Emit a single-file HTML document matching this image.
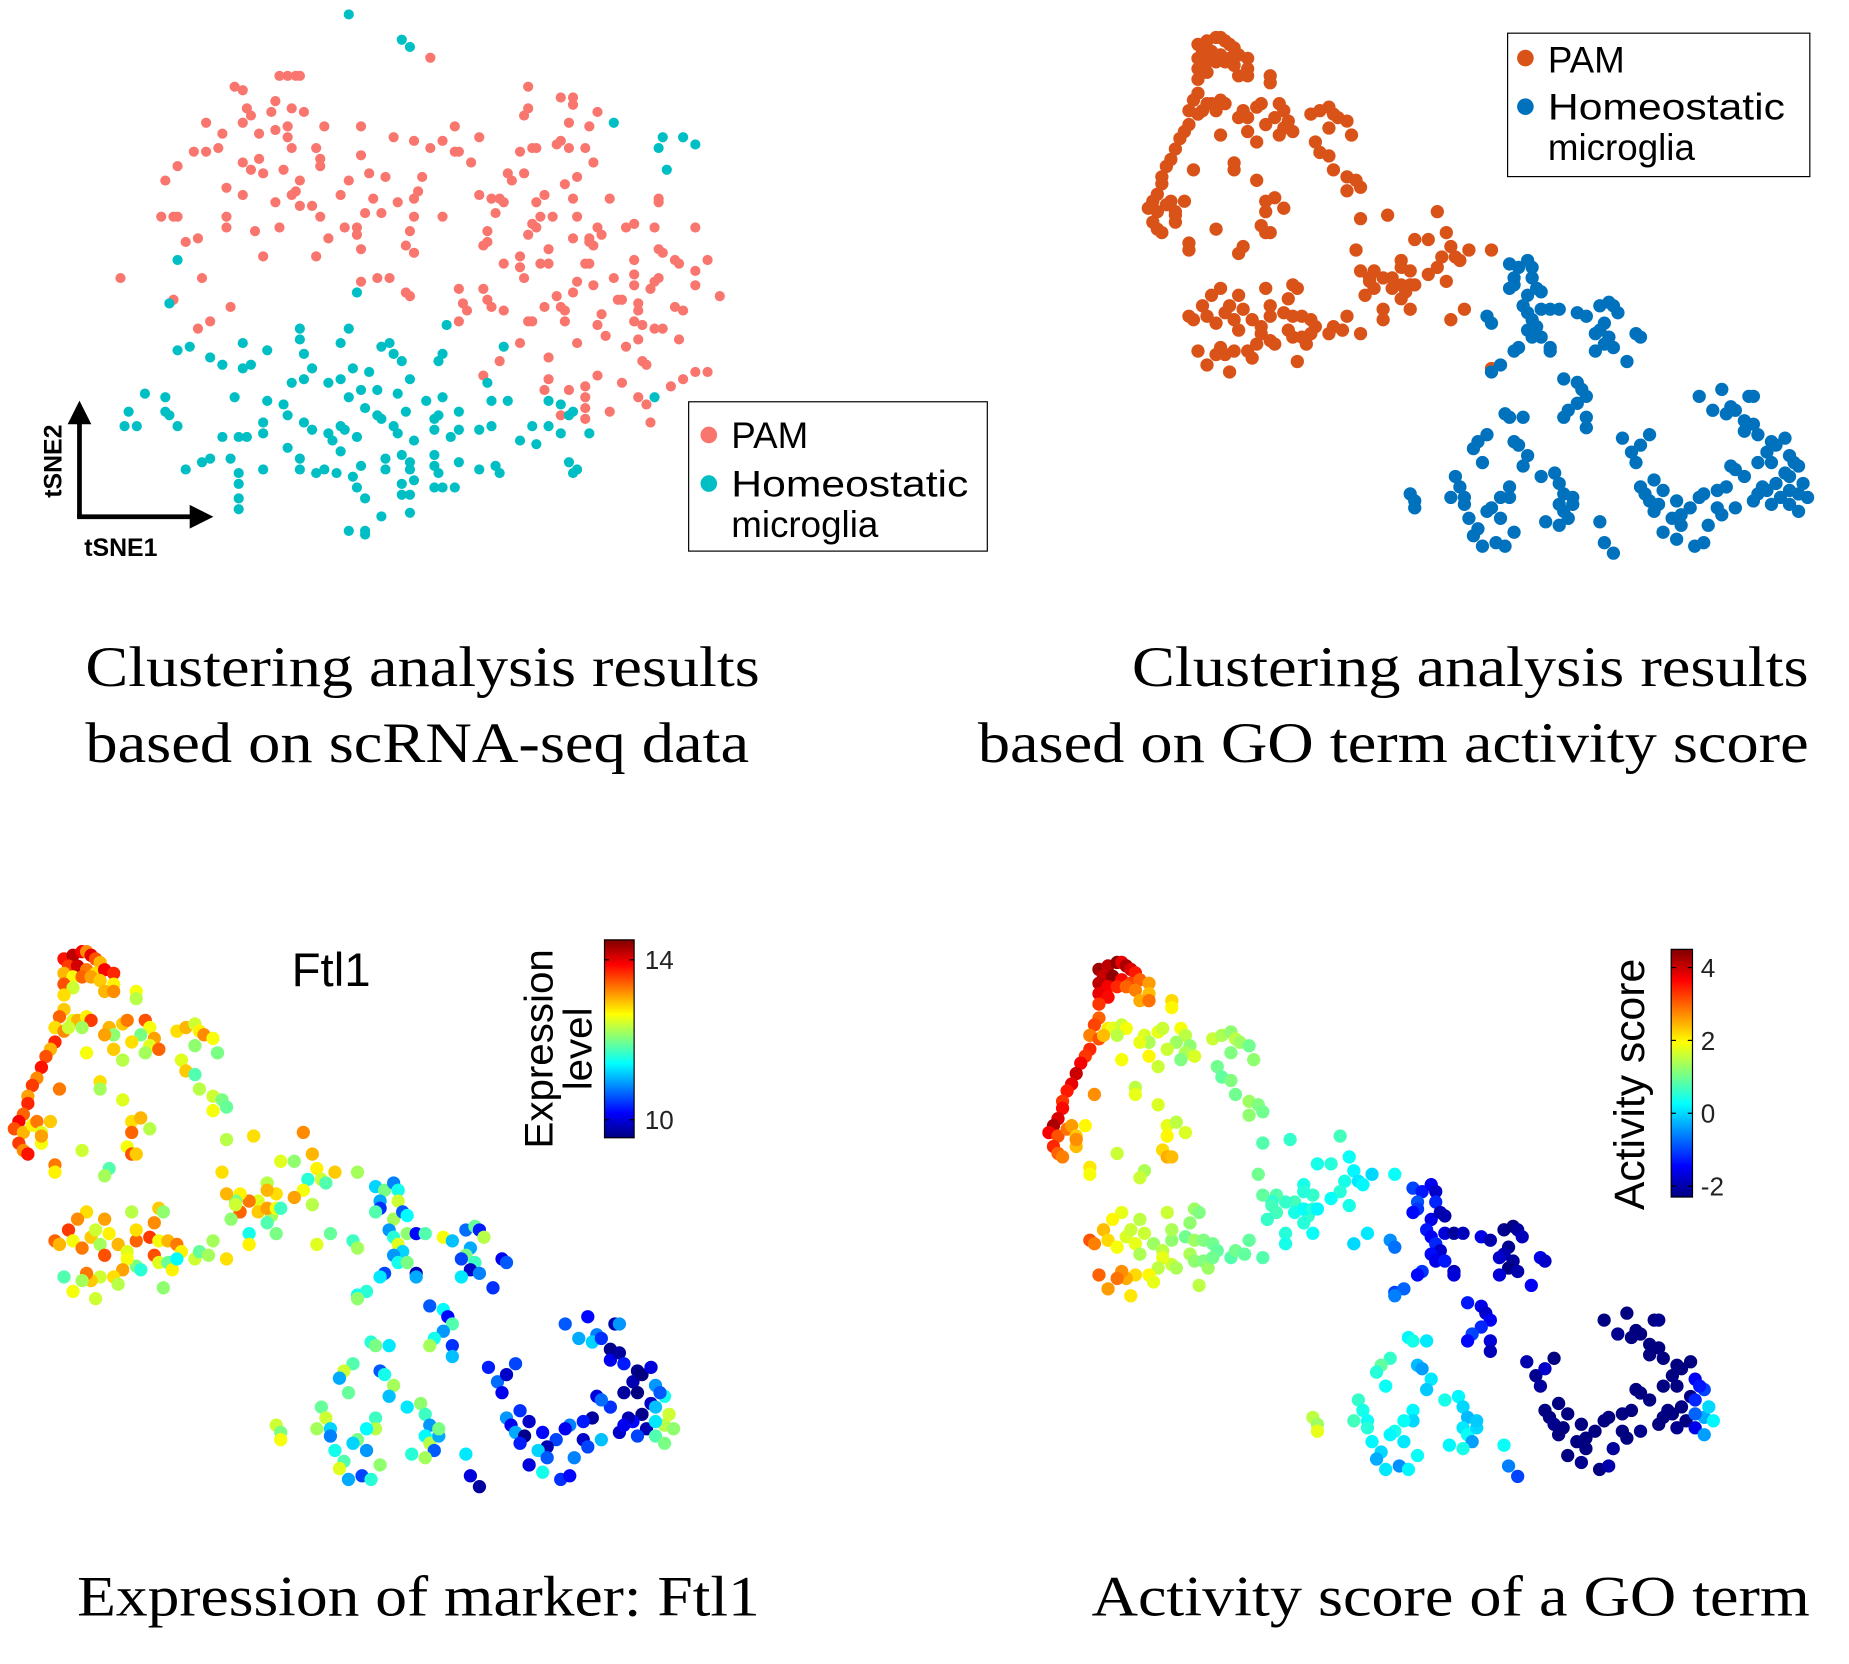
<!DOCTYPE html>
<html><head><meta charset="utf-8"><style>
html,body{margin:0;padding:0;background:#fff;}
svg{display:block;}
</style></head><body>
<svg id="fig" xmlns="http://www.w3.org/2000/svg" width="1849" height="1664" viewBox="0 0 1560 1404">
<rect width="1560" height="1404" fill="#fff"/>
<g id="p1"></g>
<g id="p2"></g>
<g id="p3"></g>
<g id="p4"></g>

<!-- panel 1 axes arrows -->
<g stroke="#000" stroke-width="4" fill="none">
<line x1="67" y1="436" x2="67" y2="352"/>
<line x1="65" y1="436" x2="164" y2="436"/>
</g>
<polygon points="57,358 77,358 67,338" fill="#000"/>
<polygon points="160,426 160,446 180,436" fill="#000"/>
<text transform="translate(52,420) rotate(-90)" font-family="Liberation Sans, sans-serif" font-weight="bold" font-size="21">tSNE2</text>
<text x="71" y="469" font-family="Liberation Sans, sans-serif" font-weight="bold" font-size="21">tSNE1</text>

<!-- legend panel1 -->
<g>
<rect x="581" y="339" width="252" height="126" fill="#fff" stroke="#000" stroke-width="1"/>
<circle cx="598" cy="367" r="7" fill="#f8766d"/>
<text x="617" y="378" font-family="Liberation Sans, sans-serif" font-size="31">PAM</text>
<circle cx="598" cy="408" r="7" fill="#00bfc4"/>
<text x="617" y="419" font-family="Liberation Sans, sans-serif" font-size="31" textLength="200" lengthAdjust="spacingAndGlyphs">Homeostatic</text>
<text x="617" y="453" font-family="Liberation Sans, sans-serif" font-size="31">microglia</text>
</g>
<!-- legend panel2 -->
<g>
<rect x="1272" y="28" width="255" height="121" fill="#fff" stroke="#000" stroke-width="1"/>
<circle cx="1287" cy="49" r="7" fill="#d95319"/>
<text x="1306" y="61" font-family="Liberation Sans, sans-serif" font-size="31">PAM</text>
<circle cx="1287" cy="90" r="7" fill="#0072bd"/>
<text x="1306" y="101" font-family="Liberation Sans, sans-serif" font-size="31" textLength="200" lengthAdjust="spacingAndGlyphs">Homeostatic</text>
<text x="1306" y="135" font-family="Liberation Sans, sans-serif" font-size="31">microglia</text>
</g>

<!-- captions -->
<g font-family="Liberation Serif, serif" font-size="48" fill="#000">
<text x="72" y="579" textLength="569" lengthAdjust="spacingAndGlyphs">Clustering analysis results</text>
<text x="72" y="643" textLength="560" lengthAdjust="spacingAndGlyphs">based on scRNA-seq data</text>
<text x="955" y="579" textLength="571" lengthAdjust="spacingAndGlyphs">Clustering analysis results</text>
<text x="825" y="643" textLength="701" lengthAdjust="spacingAndGlyphs">based on GO term activity score</text>
<text x="65" y="1363" textLength="576" lengthAdjust="spacingAndGlyphs">Expression of marker: Ftl1</text>
<text x="921" y="1363" textLength="606" lengthAdjust="spacingAndGlyphs">Activity score of a GO term</text>
</g>

<text x="246" y="832" font-family="Liberation Sans, sans-serif" font-size="40">Ftl1</text>

<defs>
<linearGradient id="jet" x1="0" y1="1" x2="0" y2="0">
<stop offset="0" stop-color="#00007f"/><stop offset="0.125" stop-color="#0000ff"/>
<stop offset="0.375" stop-color="#00ffff"/><stop offset="0.625" stop-color="#ffff00"/>
<stop offset="0.875" stop-color="#ff0000"/><stop offset="1" stop-color="#7f0000"/>
</linearGradient>
</defs>
<g id="cb3"></g>
<g id="cb4"></g>
<text transform="translate(466,885) rotate(-90)" text-anchor="middle" font-family="Liberation Sans, sans-serif" font-size="34">Expression</text>
<text transform="translate(499,885) rotate(-90)" text-anchor="middle" font-family="Liberation Sans, sans-serif" font-size="34">level</text>
<text transform="translate(1387,915) rotate(-90)" text-anchor="middle" font-family="Liberation Sans, sans-serif" font-size="36">Activity score</text>
</svg>

<script>
// ---- Panel 1 data (tSNE on scRNA-seq) ----
const pamScrna = [[81,16],[44,21],[46,21],[48,21],[49,21],[33,24],[35,25],[43,28],[42,31],[36,30],[37,32],[35,34],[47,30],[50,31],[26,34],[30,37],[39,37],[43,36],[46,35],[46,38],[47,41],[55,35],[64,35],[23,42],[26,42],[29,41],[19,46],[35,45],[39,44],[37,47],[40,48],[45,47],[53,41],[54,44],[54,46],[64,43],[16,50],[31,52],[35,54],[49,50],[48,53],[47,54],[43,56],[49,57],[52,57],[59,54],[61,50],[66,48],[70,49],[67,55],[69,59],[65,59],[79,49],[78,53],[77,55],[73,56],[15,60],[18,60],[19,60],[31,60],[31,63],[38,64],[44,63],[54,60],[56,66],[60,63],[63,63],[63,65],[64,69],[77,60],[76,64],[75,68],[77,70],[84,60],[21,67],[24,66],[40,71],[53,71],[5,77],[25,77],[64,78],[68,77],[71,77],[75,81],[76,82],[18,83],[32,85],[24,91],[27,89],[72,38],[77,39],[81,41],[84,39],[87,35],[88,42],[91,45],[93,38],[87,42],
[105,24],[105,30],[104,32],[113,27],[116,27],[116,29],[122,31],[120,35],[115,34],[112,40],[113,39],[115,41],[119,41],[103,42],[106,41],[107,41],[121,45],[104,48],[100,48],[101,50],[117,49],[114,51],[93,54],[96,55],[98,55],[99,56],[97,59],[107,56],[109,54],[116,55],[125,55],[108,60],[111,60],[117,60],[95,64],[95,67],[94,68],[105,65],[107,63],[106,62],[122,63],[123,65],[116,66],[120,66],[120,67],[121,68],[129,63],[131,62],[136,63],[146,63],[110,69],[103,71],[99,73],[103,74],[108,73],[110,73],[119,73],[120,73],[137,56],[137,55],[137,69],[138,70],[141,72],[142,73],[149,72],[131,72],[131,76],[131,79],[126,77],[136,78],[135,80],[137,77],[146,75],[146,79],[152,82],[104,77],[117,78],[121,79],[88,80],[94,80],[95,83],[96,85],[89,84],[90,86],[99,86],[88,89],[109,85],[112,82],[113,85],[114,86],[116,81],[105,89],[106,89],[114,89],[123,87],[127,83],[128,83],[132,84],[132,86],[131,89],[133,90],[136,91],[138,91],[141,85],[143,86],[122,90],[124,93],[129,96],[132,94],[142,94],[117,95],[103,95],[98,100],[110,99],[133,100],[134,101],[110,105],[122,104],[94,104],[109,108],[115,108],[119,107],[119,110],[128,106],[132,110],[134,112],[140,107],[143,105],[146,103],[149,103],[125,114],[113,115],[119,113],[119,116],[135,117]];
const homScrna = [[61,4],[74,11],[76,13],[126,34],[138,38],[143,38],[146,40],[137,41],[139,47],[19,72],[17,84],[63,81],[85,90],[49,91],[49,94],[61,91],[59,95],[35,95],[19,97],[22,96],[27,99],[30,101],[41,97],[50,98],[52,102],[35,102],[37,101],[69,96],[71,95],[72,98],[74,100],[84,98],[83,100],[99,96],[95,106],[47,106],[50,105],[56,106],[59,105],[62,102],[66,103],[76,105],[11,109],[16,110],[16,114],[17,115],[19,118],[7,114],[6,118],[9,118],[33,110],[41,111],[45,112],[46,115],[50,117],[52,119],[61,110],[64,108],[68,108],[73,109],[80,111],[84,110],[96,111],[100,111],[110,111],[113,112],[116,114],[65,113],[68,115],[69,116],[75,114],[83,115],[88,114],[40,117],[40,120],[30,121],[34,121],[36,121],[46,124],[56,120],[59,118],[60,119],[63,121],[57,122],[59,125],[72,118],[73,120],[77,122],[82,116],[82,119],[86,121],[88,119],[93,119],[96,118],[103,122],[110,118],[120,120],[21,130],[25,128],[27,127],[32,127],[34,131],[34,134],[34,138],[34,141],[40,130],[49,127],[49,130],[53,131],[55,130],[58,131],[62,132],[63,135],[64,129],[70,127],[70,130],[74,126],[76,128],[76,130],[74,134],[77,133],[82,126],[82,129],[83,131],[82,135],[84,135],[87,135],[88,128],[93,130],[97,129],[98,131],[115,128],[117,130],[116,131],[74,137],[76,137],[65,138],[69,143],[76,142],[61,147],[65,147],[65,148],[106,118],[107,123],[113,120],[115,115],[136,110]];

// ---- Panels 2-4 data (tSNE on GO activity): [x, y, Ftl1 expression, activity score] ----
const pamCells = [[15,7,13.8,4.3],[17,6,14.2,4.1],[19,5,13.9,4.4],[20,5,13.2,3.8],[21,6,14.0,4.2],[22,7,13.5,3.9],[23,8,13.0,3.5],[16,9,13.6,4.0],[18,9,14.1,4.4],[20,10,13.3,3.6],[22,11,12.8,3.2],[24,10,13.9,3.0],[15,11,13.0,4.1],[17,12,12.6,3.7],[19,12,13.4,3.4],[21,12,13.1,3.0],[23,13,12.9,2.8],[26,11,13.7,2.6],[26,14,12.7,2.4],[15,14,13.5,3.8],[17,15,12.4,3.6],[24,16,13.0,2.5],[15,17,12.8,3.3],[26,16,13.2,2.9],[31,16,12.6,2.2],[31,18,12.3,2.0],
[15,21,12.9,3.0],[14,23,13.4,3.2],[17,24,12.5,2.1],[18,24,13.0,1.8],[20,23,12.7,1.6],[21,24,13.6,1.9],[19,26,12.2,1.5],[13,26,12.8,2.8],[15,27,13.2,3.1],[16,26,12.4,2.4],[25,26,13.0,1.7],[26,28,12.1,1.4],[28,25,12.9,1.8],[29,24,13.3,1.6],[33,24,13.5,1.9],[34,26,12.6,1.5],[32,28,12.0,1.3],[30,30,12.8,1.6],[35,29,13.1,1.2],[34,31,12.5,1.4],[36,32,13.4,1.7],[33,33,12.2,1.1],[13,30,13.7,3.4],[12,32,13.0,3.3],[11,34,13.5,3.7],[10,37,13.8,4.0],[9,40,13.2,3.8],[8,42,13.6,3.5],[20,33,12.6,1.9],[26,32,12.9,2.0],[28,35,12.3,1.6],[24,28,13.1,1.8],[40,27,12.8,1.6],[42,26,13.0,1.4],[44,25,12.4,1.2],[45,27,12.7,1.5],[46,28,13.2,1.3],[44,31,12.1,1.1],[48,29,12.6,1.0],[49,33,12.0,1.2],[41,35,12.5,1.0],[42,38,12.9,0.9],[44,39,11.8,1.1],[45,43,12.3,1.0],[23,41,12.8,1.5],[23,43,12.2,1.8],[14,43,13.3,2.7],[28,46,12.5,1.7],
[7,45,13.1,3.3],[7,47,13.7,3.6],[6,50,13.4,3.9],[5,52,13.9,4.2],[4,54,13.5,3.7],[6,55,13.0,3.1],[8,53,12.7,2.9],[9,52,13.3,2.6],[10,55,12.5,2.3],[12,52,12.9,2.0],[5,58,13.6,3.4],[6,60,13.2,3.0],[7,61,13.8,2.8],[10,58,12.6,2.4],[10,56,13.1,2.7],[19,60,12.4,1.6],[30,52,12.8,1.8],[32,51,13.0,1.5],[34,54,12.3,1.7],[30,55,13.4,2.0],[29,59,12.6,2.2],[30,61,13.5,2.5],[31,61,12.9,2.4],[13,64,13.3,2.1],[13,66,12.7,1.9],[25,65,11.8,1.4],[24,67,12.2,1.6],
[48,45,12.4,1.3],[50,46,12.0,1.1],[48,49,12.6,1.2],[51,48,11.9,1.0],[51,57,12.3,0.8],[57,56,12.8,0.6],[68,55,13.2,0.7],[63,63,12.5,0.4],[66,63,12.1,0.5],[70,61,13.0,0.3],[71,65,12.7,0.2],[69,68,11.6,0.4],[72,68,12.4,0.1],[75,66,12.9,0.0],[80,66,12.2,0.3],[73,69,11.8,0.2],[68,71,12.6,0.5],[66,73,13.1,0.3],[62,72,12.8,0.6],[60,69,12.3,0.4],[60,71,13.0,0.5],[58,74,12.5,0.7],[56,74,13.3,0.6],[54,72,12.7,0.8],[53,74,12.0,0.5],[54,77,13.4,0.7],[58,77,12.9,0.4],[61,78,12.2,0.6],[60,76,13.1,0.3],[62,76,12.6,0.5],[63,76,11.7,0.2],[70,75,12.3,0.4],[50,66,12.8,1.0],[51,72,13.0,0.9],[53,75,12.4,0.7],[52,79,12.1,0.6],[56,83,11.5,0.5],[56,86,12.7,0.4],[62,83,12.0,0.3],[60,80,11.8,0.5],[71,86,12.5,0.0],[74,83,11.9,0.1],[48,85,12.2,0.9],[51,90,12.8,0.8],
[20,77,12.8,1.8],[18,79,13.2,2.0],[16,82,13.6,2.4],[13,85,13.4,3.1],[14,86,13.0,2.8],[17,85,12.6,2.2],[19,87,13.3,1.9],[21,84,12.9,1.7],[22,82,12.4,1.6],[24,79,13.1,1.5],[23,86,12.2,1.8],[24,89,13.5,1.4],[25,83,12.7,1.6],[27,86,13.0,1.3],[29,88,12.5,1.5],[31,85,13.4,1.2],[31,82,12.8,1.4],[30,77,12.3,1.6],[36,76,12.9,1.3],[37,77,12.1,1.1],[35,80,13.2,1.2],[34,84,13.6,1.0],[36,85,12.6,1.3],[38,85,13.0,1.1],[40,86,13.3,1.0],[41,88,12.7,0.9],[44,90,12.4,0.8],[45,88,11.9,1.0],[47,89,12.2,0.9],[35,89,13.5,1.4],[31,92,12.0,1.6],[29,90,12.6,1.8],[28,93,13.1,1.5],[23,95,12.4,2.2],[21,96,12.9,2.5],[20,94,13.3,2.7],[19,96,12.2,2.9],[17,99,12.6,2.6],[15,95,11.8,3.0],[26,95,12.8,2.0],[27,97,12.3,1.8],[32,93,11.6,1.4],[36,91,12.5,1.2],[38,91,11.9,1.1],[39,93,12.7,1.3],[40,90,11.4,1.0],[37,98,12.1,1.5],[22,101,12.4,2.1],[80,100,11.5,-1.0]];
const homCells = [[84,70,11.2,-1.0],[86,71,12.0,-1.3],[88,69,10.8,-1.5],[89,71,11.5,-1.8],[89,74,12.4,-1.2],[85,74,11.0,-0.9],[85,76,10.4,-1.1],[84,77,11.8,-1.4],[88,79,12.2,-1.6],[90,77,10.6,-1.9],[91,78,11.4,-2.0],[91,83,12.1,-1.7],[87,82,10.9,-1.3],[88,84,11.6,-1.5],[89,86,12.5,-1.2],[90,88,11.2,-1.8],[93,83,10.2,-2.1],[95,83,11.8,-1.9],[99,84,12.6,-1.6],[101,85,11.1,-2.0],[104,82,10.7,-2.2],[106,81,11.9,-2.3],[107,82,10.3,-2.1],[108,84,12.3,-1.9],[105,87,11.0,-2.2],[104,89,12.0,-2.0],[103,90,10.5,-1.8],[106,91,11.7,-2.1],[105,93,9.9,-2.3],[103,95,11.3,-1.7],[107,94,10.8,-2.0],[112,90,10.1,-1.6],[113,91,10.6,-1.8],[110,98,10.4,-1.5],[79,85,11.7,-0.5],[80,87,12.2,-0.7],[88,89,10.9,-1.4],[89,91,11.5,-1.6],[91,91,12.0,-1.3],[86,94,10.5,-1.1],[85,95,11.3,-1.4],[93,94,9.8,-1.9],[93,95,11.0,-1.7],[82,99,11.6,-0.8],[80,101,12.1,-0.6],
[96,103,10.6,-1.3],[99,104,11.4,-1.6],[100,106,10.2,-1.8],[101,108,11.8,-1.5],[99,110,10.9,-1.2],[97,112,11.5,-1.0],[96,114,12.2,-1.4],[101,114,10.4,-1.7],[101,117,11.1,-1.9],
[83,113,11.6,0.2],[84,114,12.0,0.4],[87,114,11.3,0.1],[79,119,11.8,0.6],[77,121,12.4,0.9],[76,123,11.0,0.5],[78,127,11.9,0.3],[85,121,10.6,-0.2],[86,122,11.5,-0.4],[88,125,12.2,0.1],[87,128,11.1,-0.1],[84,134,11.7,0.2],[84,137,12.3,0.0],[82,137,11.4,0.3],[80,140,12.0,0.4],[82,143,10.9,0.1],[79,141,11.2,0.2],[77,146,11.8,0.0],[76,148,12.5,-0.3],[78,151,11.0,0.1],[81,150,10.5,-0.5],[83,151,11.6,0.2],[85,147,12.1,0.3],[72,131,11.9,0.6],[73,134,12.4,0.4],[74,137,11.2,0.3],[74,139,10.8,0.5],[75,143,11.5,0.2],[71,137,12.2,0.7],[62,136,12.4,1.5],[63,138,12.0,1.3],[63,140,12.6,1.8],[91,131,11.3,0.4],[94,130,12.1,0.2],[95,133,11.7,0.0],[96,136,10.9,-0.2],[95,139,11.4,0.1],[96,141,12.3,0.3],[97,143,10.6,-0.4],[98,139,11.0,0.0],[98,137,12.0,-0.1],[92,144,11.6,0.2],[95,145,12.2,0.4],[104,144,11.3,0.3],[105,150,10.0,-0.6],[107,153,9.7,-1.0],
[109,120,10.3,-2.0],[111,124,10.7,-2.2],[113,122,9.9,-1.8],[115,119,10.5,-2.3],[112,127,10.1,-2.1],
[126,108,10.6,-2.3],[129,112,11.0,-2.2],[131,106,10.2,-2.4],[133,111,10.8,-2.3],[132,113,11.2,-2.5],[134,112,10.4,-2.4],[137,108,9.8,-2.3],[138,108,10.9,-2.2],[136,115,9.6,-2.5],[136,118,10.1,-2.4],[138,116,9.7,-2.5],[139,119,10.3,-2.3],[142,121,9.6,-2.5],[141,124,9.8,-2.4],[143,122,9.5,-2.5],[145,120,10.0,-2.3],[139,127,9.7,-2.4],[142,127,9.5,-2.5],[145,130,9.9,-2.4],[143,133,9.6,-2.5],[141,135,10.2,-2.3],[144,137,9.8,-2.4],[142,139,10.5,-2.2],[146,139,11.8,-1.6],[146,125,10.9,-1.5],[148,128,11.5,-1.0],[148,136,12.3,-0.3],[146,131,11.1,-1.2],[147,127,10.6,-1.3],[138,138,9.9,-2.4],[136,131,10.4,-2.3],[133,128,10.0,-2.4],[134,129,10.7,-2.5],[132,134,9.7,-2.5],[130,135,10.3,-2.4],[127,136,10.8,-2.3],[126,137,10.1,-2.5],[124,140,10.5,-2.4],[122,142,9.8,-2.5],[121,138,10.2,-2.4],[118,135,9.9,-2.5],[116,132,10.4,-2.4],[113,134,10.9,-2.3],[114,136,10.1,-2.5],[115,138,11.0,-2.2],[117,139,9.6,-2.5],[116,141,10.3,-2.4],[120,143,11.2,-2.3],[122,145,10.6,-2.4],[118,147,10.0,-2.5],[121,149,11.5,-2.2],[125,151,10.4,-2.3],[128,145,10.8,-2.1],[130,140,9.9,-2.4],[131,142,10.5,-2.3],[134,140,11.1,-2.2],[127,150,10.2,-2.0],[146,135,11.3,-0.8],[148,141,12.0,-0.4],[149,133,12.4,0.0],[150,137,12.1,0.2],[140,134,9.8,-2.4],[139,136,10.1,-2.5]];

const exprTicks = [10, 14];
const exprRange = [9.55, 14.5];
const actTicks = [-2, 0, 2, 4];
const actRange = [-2.3, 4.5];

const NS = 'http://www.w3.org/2000/svg';
function mk(tag, attrs, parent){ const e=document.createElementNS(NS,tag); for(const k in attrs) e.setAttribute(k,attrs[k]); parent.appendChild(e); return e; }
function axis(off, scale){ return v => off + v*scale; }
function clamp(v){ return Math.max(0, Math.min(1, v)); }
function jet(t){
  t = clamp(t);
  const r = clamp(1.5-Math.abs(4*t-3)), g = clamp(1.5-Math.abs(4*t-2)), b = clamp(1.5-Math.abs(4*t-1));
  return 'rgb('+Math.round(r*255)+','+Math.round(g*255)+','+Math.round(b*255)+')';
}

// panel 1
const x1 = axis(84.4, 3.44), y1 = axis(0, 3.047);
const g1 = document.getElementById('p1');
pamScrna.forEach(p => {
  const c = mk('circle', {cx:x1(p[0]), cy:y1(p[1]), r:4.3, fill:'#f8766d'}, g1);
  
  
});
homScrna.forEach(p => {
  const c = mk('circle', {cx:x1(p[0]), cy:y1(p[1]), r:4.3, fill:'#00bfc4'}, g1);
  
  
});

// panel 2
const x2 = axis(953.6, 3.81), y2 = axis(16.9, 2.94);
const g2 = document.getElementById('p2');
pamCells.forEach(p => {
  const c = mk('circle', {cx:x2(p[0]), cy:y2(p[1]), r:5.6, fill:'#d95319'}, g2);
  
  
});
homCells.forEach(p => {
  const c = mk('circle', {cx:x2(p[0]), cy:y2(p[1]), r:5.6, fill:'#0072bd'}, g2);
  
  
});

// panels 3, 4
const allCells = pamCells.concat(homCells);
const x3 = axis(-3.2, 3.81), y3 = axis(787.7, 3.05);
const x4 = axis(869.6, 3.84), y4 = axis(797.4, 2.93);
const g3 = document.getElementById('p3'), g4 = document.getElementById('p4');
allCells.forEach(p => {
  const c = mk('circle', {cx:x3(p[0]), cy:y3(p[1]), r:5.6, fill:jet((p[2]-exprRange[0])/(exprRange[1]-exprRange[0]))}, g3);
  
  
});
allCells.forEach(p => {
  const c = mk('circle', {cx:x4(p[0]), cy:y4(p[1]), r:5.6, fill:jet((p[3]-actRange[0])/(actRange[1]-actRange[0]))}, g4);
  
  
});

// colorbars
function colorbar(gid, x, top, bottom, w, range, ticks, fs, lx){
  const g = document.getElementById(gid);
  const bar = mk('rect', {x:x, y:top, width:w, height:bottom-top, fill:'url(#jet)', stroke:'#000', 'stroke-width':1}, g);
  
  
  const yv = v => bottom - (v-range[0])/(range[1]-range[0])*(bottom-top);
  ticks.forEach(t => {
    mk('line', {x1:x, x2:x+4, y1:yv(t), y2:yv(t), stroke:'#000', 'stroke-width':1}, g);
    mk('line', {x1:x+w-4, x2:x+w, y1:yv(t), y2:yv(t), stroke:'#000', 'stroke-width':1}, g);
    const tx = mk('text', {x:lx, y:yv(t)+fs*0.36, 'font-family':'Liberation Sans, sans-serif', 'font-size':fs, fill:'#222'}, g);
    tx.textContent = String(t).replace('-', '-');
    
    
  });
}
colorbar('cb3', 510, 793, 960, 25, exprRange, exprTicks, 22, 544);
colorbar('cb4', 1410, 801, 1010, 18, actRange, actTicks, 22, 1435);
</script>
</body></html>
